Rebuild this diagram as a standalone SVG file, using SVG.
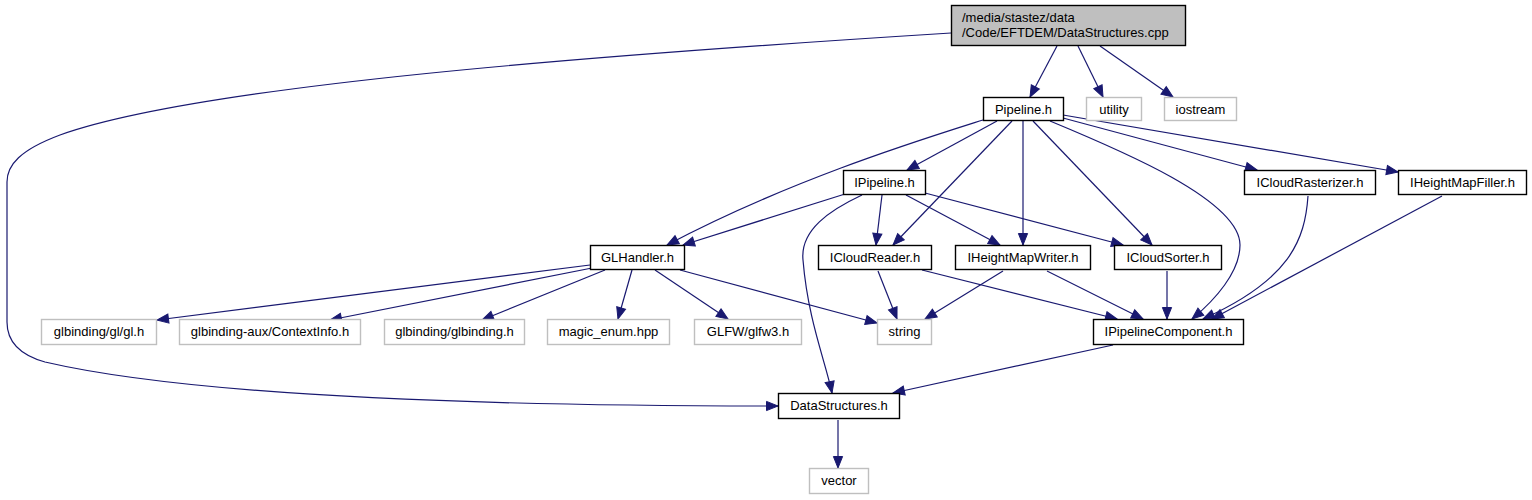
<svg xmlns="http://www.w3.org/2000/svg" width="1532" height="500" viewBox="0 0 1532 500">
<style>
.n rect{fill:#fff;stroke:#000;stroke-width:1.4}
.x rect{fill:#fff;stroke:#bfbfbf;stroke-width:1.4}
.r rect{fill:#bfbfbf;stroke:#000;stroke-width:1.4}
text{font-family:"Liberation Sans",Arial,sans-serif;font-size:13px;fill:#000}
.c{text-anchor:middle}
#edges path{fill:none;stroke:#191970;stroke-width:1.2;marker-end:url(#ah)}
</style>
<defs>
<marker id="ah" markerUnits="userSpaceOnUse" markerWidth="14" markerHeight="12" viewBox="0 -6 13 12" refX="12" refY="0" orient="auto">
<path d="M0.5,-4.6 L12,0 L0.5,4.6 z" fill="#191970" stroke="#191970" stroke-width="1"/>
</marker>
</defs>
<rect width="1532" height="500" fill="#fff"/>
<g id="edges">
<path d="M1057,46 L1030,97"/>
<path d="M1078,46 L1103,97"/>
<path d="M1100,46 L1173,97"/>
<path d="M951,33 C600,55 200,85 60,135 C20,150 7,165 7,182 L7,322 C7,342 20,355 45,362 C200,398 500,406 778,406"/>
<path d="M983,120 C920,140 790,180 667,245"/>
<path d="M997,121 L907,170"/>
<path d="M1012,121 L893,245"/>
<path d="M1023,121 L1023,245"/>
<path d="M1033,121 L1152,245"/>
<path d="M1050,121 C1120,150 1240,200 1240,245 C1240,272 1215,300 1192,319"/>
<path d="M1063,118 L1257,170"/>
<path d="M1063,115 L1398,172"/>
<path d="M845,194 L683,245"/>
<path d="M862,195 C830,210 800,230 803,260 C808,320 825,360 832,393"/>
<path d="M882,195 L876,245"/>
<path d="M906,195 L1000,245"/>
<path d="M925,193 L1123,245"/>
<path d="M590,265 L157,320"/>
<path d="M592,268 L330,320"/>
<path d="M605,270 L482,320"/>
<path d="M632,270 L618,319"/>
<path d="M655,270 L728,319"/>
<path d="M680,270 L877,323"/>
<path d="M878,271 L897,319"/>
<path d="M922,270 L1117,319"/>
<path d="M1003,271 L925,319"/>
<path d="M1047,271 L1143,319"/>
<path d="M1167,271 L1167,319"/>
<path d="M1308,196 C1305,240 1290,280 1203,319"/>
<path d="M1442,196 L1212,319"/>
<path d="M1113,345 L893,393"/>
<path d="M838,420 L838,468"/>
</g>
<g id="root" class="r"><rect x="951.5" y="5.5" width="234" height="40"/><text x="962" y="22">/media/stastez/data</text><text x="962" y="37">/Code/EFTDEM/DataStructures.cpp</text></g>
<g id="pipeline" class="n"><rect x="983.5" y="97.5" width="80" height="23"/><text class="c" x="1023.5" y="113.5">Pipeline.h</text></g>
<g id="utility" class="x"><rect x="1086.5" y="97.5" width="55" height="23"/><text class="c" x="1114" y="113.5">utility</text></g>
<g id="iostream" class="x"><rect x="1164.5" y="97.5" width="72" height="23"/><text class="c" x="1200.5" y="113.5">iostream</text></g>
<g id="ipipeline" class="n"><rect x="843.5" y="170.5" width="82" height="24"/><text class="c" x="884.5" y="187">IPipeline.h</text></g>
<g id="icloudrasterizer" class="n"><rect x="1244.5" y="170.5" width="131" height="24"/><text class="c" x="1310" y="187">ICloudRasterizer.h</text></g>
<g id="iheightmapfiller" class="n"><rect x="1398.5" y="170.5" width="128" height="24"/><text class="c" x="1462.5" y="187">IHeightMapFiller.h</text></g>
<g id="glhandler" class="n"><rect x="590.5" y="245.5" width="94" height="24"/><text class="c" x="637.5" y="262">GLHandler.h</text></g>
<g id="icloudreader" class="n"><rect x="818.5" y="245.5" width="113" height="24"/><text class="c" x="875" y="262">ICloudReader.h</text></g>
<g id="iheightmapwriter" class="n"><rect x="955.5" y="245.5" width="135" height="24"/><text class="c" x="1023" y="262">IHeightMapWriter.h</text></g>
<g id="icloudsorter" class="n"><rect x="1114.5" y="245.5" width="107" height="24"/><text class="c" x="1168" y="262">ICloudSorter.h</text></g>
<g id="glh" class="x"><rect x="41.5" y="319.5" width="115" height="25"/><text class="c" x="99" y="336">glbinding/gl/gl.h</text></g>
<g id="contextinfo" class="x"><rect x="179.5" y="319.5" width="181" height="25"/><text class="c" x="270" y="336">glbinding-aux/ContextInfo.h</text></g>
<g id="glbinding" class="x"><rect x="384.5" y="319.5" width="140" height="25"/><text class="c" x="454.5" y="336">glbinding/glbinding.h</text></g>
<g id="magicenum" class="x"><rect x="547.5" y="319.5" width="122" height="25"/><text class="c" x="608.5" y="336">magic_enum.hpp</text></g>
<g id="glfw" class="x"><rect x="694.5" y="319.5" width="107" height="25"/><text class="c" x="748" y="336">GLFW/glfw3.h</text></g>
<g id="string" class="x"><rect x="877.5" y="319.5" width="54" height="25"/><text class="c" x="904.5" y="336">string</text></g>
<g id="ipipelinecomponent" class="n"><rect x="1093.5" y="319.5" width="150" height="25"/><text class="c" x="1168.5" y="336">IPipelineComponent.h</text></g>
<g id="datastructures" class="n"><rect x="778.5" y="393.5" width="121" height="25"/><text class="c" x="839" y="410">DataStructures.h</text></g>
<g id="vector" class="x"><rect x="809.5" y="468.5" width="59" height="25"/><text class="c" x="839" y="485">vector</text></g>
</svg>
